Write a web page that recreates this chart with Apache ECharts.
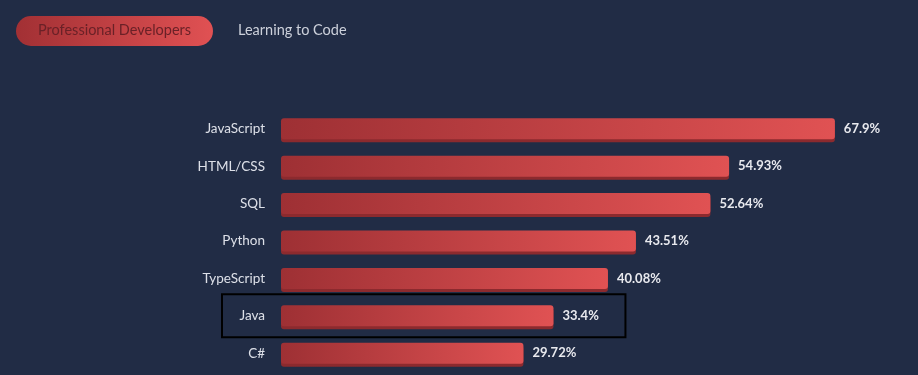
<!DOCTYPE html>
<html><head><meta charset="utf-8">
<script src="https://cdn.jsdelivr.net/npm/echarts@6/dist/echarts.min.js"></script>
<style>html,body{margin:0;padding:0;background:#212c45;}#c{width:918px;height:375px;}</style>
</head><body><div id="c"></div>
<script>
const categories = ['JavaScript','HTML/CSS','SQL','Python','TypeScript','Java','C#'];
const values = [67.9, 54.93, 52.64, 43.51, 40.08, 33.4, 29.72];
const valueLabels = ['67.9%','54.93%','52.64%','43.51%','40.08%','33.4%','29.72%'];
const tabs = ['Professional Developers','Learning to Code'];
const highlighted = 'Java';

const chart = echarts.init(document.getElementById('c'));
const FONT = 'Lato, "Noto Sans", sans-serif';
chart.setOption({
  backgroundColor: '#212c45',
  animation: false,
  grid: {left: 281, right: 66, top: 110, bottom: 3, containLabel: false},
  xAxis: {type: 'value', min: 0, max: 70, show: false},
  yAxis: {type: 'category', data: categories, inverse: true,
    axisLine: {show: false}, axisTick: {show: false}, splitLine: {show: false},
    axisLabel: {color: '#dde0e8', fontSize: 13.5, fontFamily: FONT, margin: 16}},
  series: [{
    type: 'bar', data: values, barWidth: 21,
    itemStyle: {
      borderRadius: 3,
      color: new echarts.graphic.LinearGradient(0, 0, 1, 0, [
        {offset: 0, color: '#9e3034'}, {offset: 1, color: '#e05253'}]),
      shadowColor: '#8c2a2e', shadowOffsetY: 3, shadowBlur: 0
    },
    label: {show: true, position: 'right', distance: 9, color: '#e8e9ee', fontWeight: 'bold',
      fontSize: 13, fontFamily: FONT, formatter: p => valueLabels[p.dataIndex]}
  }],
  graphic: [
    {type: 'rect', left: 16, top: 16, shape: {width: 197, height: 30, r: 15},
      style: {fill: new echarts.graphic.LinearGradient(0, 0, 1, 0, [
        {offset: 0, color: '#a23034'}, {offset: 1, color: '#e05153'}])}},
    {type: 'text', left: 38, top: 23, style: {text: tabs[0], fill: '#6a2127', fontSize: 14.5, fontFamily: FONT}},
    {type: 'text', left: 238, top: 23, style: {text: tabs[1], fill: '#cdd1db', fontSize: 14.5, fontFamily: FONT}}
  ]
});
const idx = categories.indexOf(highlighted);
const cy = chart.convertToPixel({yAxisIndex: 0}, idx);
const x0 = chart.convertToPixel({xAxisIndex: 0}, 0);
const xe = chart.convertToPixel({xAxisIndex: 0}, values[idx]);
chart.setOption({graphic: [
  {type: 'rect', id: 'hl', shape: {x: x0 - 59, y: cy - 21.5, width: (xe - x0) + 131, height: 43},
    style: {fill: 'none', stroke: '#000', lineWidth: 2}}
]});
</script></body></html>
